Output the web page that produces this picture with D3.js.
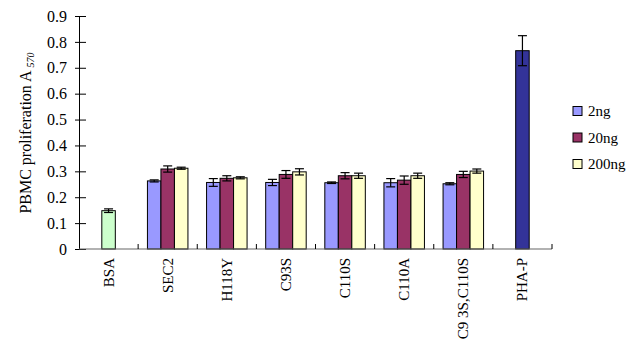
<!DOCTYPE html>
<html><head><meta charset="utf-8">
<script src="https://cdn.jsdelivr.net/npm/d3@7/dist/d3.min.js"></script>
<style>body{margin:0;background:#fff}svg{display:block}svg text{font-family:"Liberation Serif",serif !important}</style>
</head><body><svg id="c" width="639" height="347"></svg>
<script>
const categories = ["BSA","SEC2","H118Y","C93S","C110S","C110A","C9 3S,C110S","PHA-P"];
const series = ["2ng","20ng","200ng"];
const values2 = [null,0.263,0.257,0.257,0.256,0.256,0.252,null];
const values20 = [null,0.309,0.273,0.288,0.283,0.266,0.288,null];
const values200 = [null,0.312,0.275,0.298,0.283,0.283,0.301,null];
const err2 = [null,0.004,0.015,0.012,0.003,0.016,0.004,null];
const err20 = [null,0.012,0.010,0.015,0.012,0.016,0.012,null];
const err200 = [null,0.004,0.004,0.012,0.010,0.010,0.008,null];
const singleValues = {"BSA":0.148,"PHA-P":0.766};
const singleErrors = {"BSA":0.007,"PHA-P":0.058};
const yTicks = [0,0.1,0.2,0.3,0.4,0.5,0.6,0.7,0.8,0.9];
const seriesColors = ["#9999FF","#993366","#FFFFCC"];
const singleColors = {"BSA":"#CCFFCC","PHA-P":"#333399"};

const svg = d3.select("#c");
const mLeft = 79, mRight = 552, mTop = 16, mBottom = 249;
const x = d3.scaleBand().domain(categories).range([mLeft,mRight]).paddingInner(0).paddingOuter(0);
const y = d3.scaleLinear().domain([0,0.9]).range([mBottom,mTop]);
const subW = 40.5;
const xs = d3.scaleBand().domain(series).range([0,subW]);
const bw = xs.bandwidth();

const seriesVals = [values2,values20,values200];
const seriesErrs = [err2,err20,err200];
const bars = [];
categories.forEach((c,i)=>{
  const cx = x(c)+x.bandwidth()/2;
  if (singleValues[c]!==undefined){
    bars.push({x:cx-bw/2,v:singleValues[c],e:singleErrors[c],fill:singleColors[c]});
  } else {
    series.forEach((s,j)=>{
      bars.push({x:cx-subW/2+xs(s),v:seriesVals[j][i],e:seriesErrs[j][i],fill:seriesColors[j]});
    });
  }
});

const g = svg.append("g");
g.selectAll("rect.bar").data(bars).join("rect").attr("class","bar")
  .attr("x",d=>d.x).attr("width",bw)
  .attr("y",d=>y(d.v)).attr("height",d=>y(0)-y(d.v))
  .attr("fill",d=>d.fill).attr("stroke","#000").attr("stroke-width",1);

const eb = g.selectAll("g.err").data(bars).join("g").attr("class","err").attr("stroke","#000").attr("stroke-width",1.2);
eb.append("line").attr("x1",d=>d.x+bw/2).attr("x2",d=>d.x+bw/2).attr("y1",d=>y(d.v+d.e)).attr("y2",d=>y(d.v-d.e));
eb.append("line").attr("x1",d=>d.x+bw/2-4.5).attr("x2",d=>d.x+bw/2+4.5).attr("y1",d=>y(d.v+d.e)).attr("y2",d=>y(d.v+d.e));
eb.append("line").attr("x1",d=>d.x+bw/2-4.5).attr("x2",d=>d.x+bw/2+4.5).attr("y1",d=>y(d.v-d.e)).attr("y2",d=>y(d.v-d.e));

// Y axis
const yAxis = d3.axisLeft(y).tickValues(yTicks).tickFormat(d=>d===0?"0":d3.format(".1f")(d)).tickSize(4).tickSizeOuter(0);
const ya = svg.append("g").attr("transform",`translate(${mLeft},0)`).call(yAxis);
ya.attr("font-family",null).attr("font-size",null);
ya.select(".domain").attr("stroke","#000");
ya.selectAll(".tick line").attr("x2",7).attr("x1",-4).attr("stroke","#000");
ya.selectAll(".tick text").attr("x",-12).attr("font-size","16px").attr("fill","#000");

// X axis
const xa = svg.append("g").attr("transform",`translate(0,${mBottom})`);
xa.append("line").attr("x1",mLeft).attr("x2",mRight).attr("stroke","#666").attr("stroke-width",1.2);
const boundaries = categories.map(c=>x(c)+x.bandwidth());
xa.selectAll("line.t").data(boundaries).join("line").attr("class","t")
  .attr("x1",d=>d).attr("x2",d=>d).attr("y1",0).attr("y2",-5).attr("stroke","#000");
xa.selectAll("text").data(categories).join("text")
  .attr("transform",d=>`translate(${x(d)+x.bandwidth()/2+5},9) rotate(-90)`)
  .attr("text-anchor","end").attr("font-size","15px").text(d=>d);

// Y title
const yt = svg.append("text").attr("transform","translate(31,133) rotate(-90)")
  .attr("text-anchor","middle").attr("font-size","16px");
yt.append("tspan").text("PBMC proliferation A ");
yt.append("tspan").attr("font-size","10px").attr("font-style","italic").attr("dy",3).text("570");

// Legend
const lg = svg.append("g");
series.forEach((s,j)=>{
  const cy = 111 + j*26.5;
  lg.append("rect").attr("x",573).attr("y",cy-4.5).attr("width",9).attr("height",9)
    .attr("fill",seriesColors[j]).attr("stroke","#000");
  lg.append("text").attr("x",588).attr("y",cy+5).attr("font-size","15px").text(s);
});
</script></body></html>
